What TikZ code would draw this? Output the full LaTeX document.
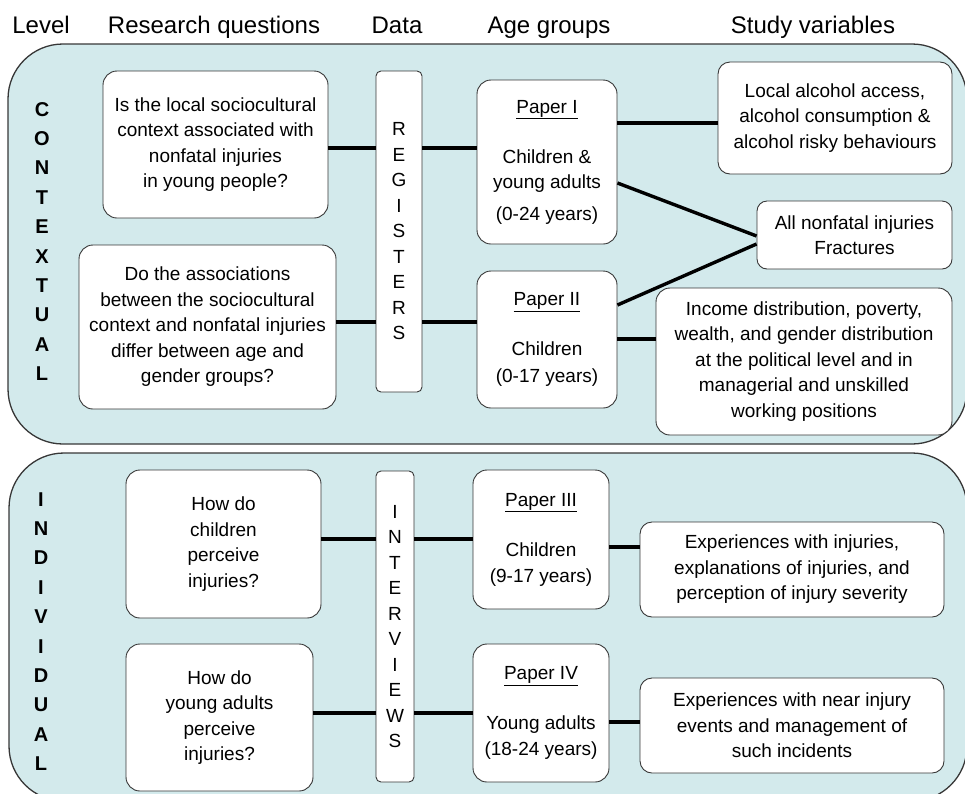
\documentclass[tikz,border=0pt]{standalone}
\usepackage{fontspec}
\setmainfont{Liberation Sans}
\definecolor{panelfill}{RGB}{211,234,236}
\definecolor{edge}{RGB}{55,55,55}
\begin{document}
\begin{tikzpicture}[x=1pt,y=-1pt,
  panel/.style={draw=edge, line width=1.3pt, fill=panelfill, rounded corners=55pt},
  box/.style={draw=edge, fill=white, line width=0.9pt, rounded corners=14pt, align=center,
    inner sep=0pt, font=\fontsize{19pt}{25.5pt}\selectfont},
  vbox/.style={box, rounded corners=5pt},
  header/.style={anchor=base, inner sep=0pt, font=\fontsize{24pt}{28pt}\selectfont},
  levelword/.style={align=center, inner sep=0pt, font=\fontsize{20pt}{29.4pt}\selectfont\bfseries},
  conn/.style={line width=3.4pt}]
\useasboundingbox (0,0) rectangle (965,793);

% panels
\path[panel] (8,44) rectangle (967,444);
\path[panel] (9,453) rectangle (967,801);

% headers
\node[header] (hlevel) at (41,33) {Level};
\node[header] (hrq) at (214,33) {Research questions};
\node[header] (hdata) at (397,33) {Data};
\node[header] (hage) at (549,33) {Age groups};
\node[header] (hvar) at (813,33) {Study variables};

% level words
\node[levelword] (ctx) at (42,241.5) {C\\O\\N\\T\\E\\X\\T\\U\\A\\L};
\node[levelword] (ind) at (41,631.5) {I\\N\\D\\I\\V\\I\\D\\U\\A\\L};

% contextual
\node[box, minimum width=225pt, minimum height=147pt] (rq1) at (215.5,144.5)
  {Is the local sociocultural\\context associated with\\nonfatal injuries\\in young people?};
\node[box, minimum width=257pt, minimum height=164pt] (rq2) at (207.5,327)
  {Do the associations\\between the sociocultural\\context and nonfatal injuries\\differ between age and\\gender groups?};
\node[vbox, minimum width=46pt, minimum height=321pt] (reg) at (399,231.5)
  {R\\E\\G\\I\\S\\T\\E\\R\\S};
\node[box, minimum width=140pt, minimum height=164pt] (p1) at (547,162)
  {\underline{Paper I}\\[24.5pt]Children \&\\young adults\\[6pt](0-24 years)};
\node[box, minimum width=140pt, minimum height=137pt] (p2) at (547,339.5)
  {\underline{Paper II}\\[24.5pt]Children\\[1.5pt](0-17 years)};
\node[box, rounded corners=12pt, minimum width=234pt, minimum height=112pt] (alc) at (835,118)
  {Local alcohol access,\\alcohol consumption \&\\alcohol risky behaviours};
\node[box, rounded corners=10pt, minimum width=195pt, minimum height=68pt] (nf) at (854.5,235)
  {All nonfatal injuries\\Fractures};
\node[box, rounded corners=14pt, minimum width=296pt, minimum height=147pt] (inc) at (804,361.5)
  {Income distribution, poverty,\\wealth, and gender distribution\\at the political level and in\\managerial and unskilled\\working positions};

% individual
\node[box, minimum width=195pt, minimum height=148pt] (q3) at (223.5,544)
  {How do\\children\\perceive\\injuries?};
\node[box, minimum width=187pt, minimum height=147pt] (q4) at (219.5,717.5)
  {How do\\young adults\\perceive\\injuries?};
\node[vbox, minimum width=38pt, minimum height=311pt] (int) at (395,626.5)
  {I\\N\\T\\E\\R\\V\\I\\E\\W\\S};
\node[box, minimum width=136pt, minimum height=139pt] (p3) at (541,539.5)
  {\underline{Paper III}\\[25pt]Children\\(9-17 years)};
\node[box, minimum width=136pt, minimum height=138pt] (p4) at (541,713)
  {\underline{Paper IV}\\[24.5pt]Young adults\\(18-24 years)};
\node[box, rounded corners=12pt, minimum width=304pt, minimum height=95pt] (exp) at (792,569.5)
  {Experiences with injuries,\\explanations of injuries, and\\perception of injury severity};
\node[box, rounded corners=12pt, minimum width=304pt, minimum height=95pt] (exp2) at (792,725.5)
  {Experiences with near injury\\events and management of\\such incidents};

% connector levels
\coordinate (ya) at (0,148);
\coordinate (yb) at (0,322);
\coordinate (yc) at (0,123);
\coordinate (yd) at (0,339);
\coordinate (ye) at (0,539);
\coordinate (yf) at (0,713);
\coordinate (yg) at (0,547);
\coordinate (yh) at (0,722);

\draw[conn] (rq1.east |- ya) -- (reg.west |- ya);
\draw[conn] (reg.east |- ya) -- (p1.west |- ya);
\draw[conn] (rq2.east |- yb) -- (reg.west |- yb);
\draw[conn] (reg.east |- yb) -- (p2.west |- yb);
\draw[conn] (p1.east |- yc) -- (alc.west |- yc);
\draw[conn] (p2.east |- yd) -- (inc.west |- yd);
\draw[conn] ([yshift=-21pt]p1.east) -- ([yshift=-1pt]nf.west);
\draw[conn] ([yshift=34.5pt]p2.east) -- ([yshift=-9pt]nf.west);

\draw[conn] (q3.east |- ye) -- (int.west |- ye);
\draw[conn] (int.east |- ye) -- (p3.west |- ye);
\draw[conn] (q4.east |- yf) -- (int.west |- yf);
\draw[conn] (int.east |- yf) -- (p4.west |- yf);
\draw[conn] (p3.east |- yg) -- (exp.west |- yg);
\draw[conn] (p4.east |- yh) -- (exp2.west |- yh);
\end{tikzpicture}
\end{document}
